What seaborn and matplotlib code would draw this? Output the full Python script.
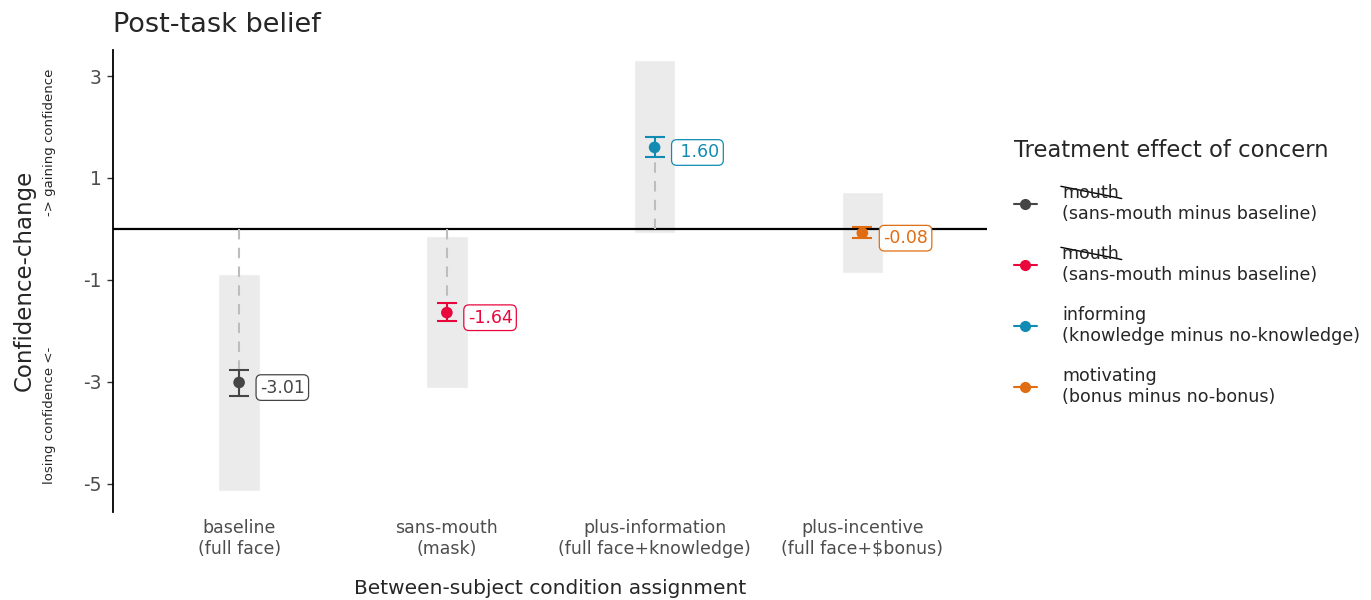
import numpy as np
import pandas as pd
import matplotlib
matplotlib.use("Agg")
import matplotlib.pyplot as plt
from matplotlib.lines import Line2D
import seaborn as sns


# DATA

conditions = [
    "baseline\n(full face)",
    "sans-mouth\n(mask)",
    "plus-information\n(full face+knowledge)",
    "plus-incentive\n(full face+$bonus)",
]
effects = [
    "mouth\n(sans-mouth minus baseline)",
    "mouth \n(sans-mouth minus baseline)",
    "informing\n(knowledge minus no-knowledge)",
    "motivating\n(bonus minus no-bonus)",
]
estimates = [-3.01, -1.64, 1.60, -0.08]
ci_low = [-3.28, -1.81, 1.41, -0.17]
ci_high = [-2.76, -1.46, 1.80, 0.04]
range_low = [-5.14, -3.12, -0.08, -0.86]
range_high = [-0.88, -0.14, 3.31, 0.73]
colors = ["#454545", "#E8063C", "#128BB3", "#E06D12"]

df = pd.DataFrame({
    "condition": conditions,
    "effect": effects,
    "estimate": estimates,
    "lo": ci_low,
    "hi": ci_high,
    "rlo": range_low,
    "rhi": range_high,
})
df["pos"] = np.arange(len(df))


# PLOT

sns.set_style("white")
plt.rcParams["font.family"] = ["DejaVu Sans"]
plt.rcParams["axes.unicode_minus"] = False

fig = plt.figure(figsize=(13.71, 6.0), dpi=100)
ax = fig.add_axes([113 / 1371, 1 - 512 / 600, (987 - 113) / 1371, (512 - 50) / 600])

# grey range bars
ax.bar(
    df["pos"], df["rhi"] - df["rlo"], bottom=df["rlo"],
    width=0.2, color="#EBEBEB", zorder=1
)

# zero line
ax.axhline(0, color="black", lw=1.6, zorder=2)

# dashed connector from zero to estimate
for _, r in df.iterrows():
    ax.plot([r["pos"], r["pos"]], [0, r["estimate"]],
            color="#BDBDBD", lw=1.5, ls=(0, (5, 4)), zorder=3)

# error bars
for (_, r), c in zip(df.iterrows(), colors):
    ax.errorbar(
        r["pos"], r["estimate"],
        yerr=[[r["estimate"] - r["lo"]], [r["hi"] - r["estimate"]]],
        fmt="none", ecolor=c, elinewidth=1.5, capsize=7.5, capthick=1.5,
        zorder=4
    )

sns.scatterplot(
    data=df, x="pos", y="estimate", hue="effect",
    palette=colors, s=70, edgecolor="none", legend=False,
    zorder=5, ax=ax
)

# value labels
for (_, r), c in zip(df.iterrows(), colors):
    ax.text(
        r["pos"] + 0.1, r["estimate"] - 0.1, f"{r['estimate']:5.2f}",
        color=c, fontsize=12.5, ha="left", va="center", zorder=6,
        bbox=dict(boxstyle="round,pad=0.22,rounding_size=0.3",
                  fc="white", ec=c, lw=0.9)
    )

ax.set_xlim(-0.607, 3.6)
ax.set_ylim(-5.55, 3.51)
ax.set_yticks([3, 1, -1, -3, -5])
ax.set_xticks(df["pos"])
ax.set_xticklabels(conditions, fontsize=12.5, color="#4D4D4D",
                   linespacing=1.2)
ax.tick_params(axis="x", length=0, pad=5)
ax.tick_params(axis="y", length=4, width=1, color="#333333",
               labelsize=13.5, labelcolor="#4D4D4D", pad=4, left=True)
ax.set_xlabel("")
ax.set_ylabel("")

sns.despine(ax=ax, bottom=True)
ax.spines["left"].set_color("black")
ax.spines["left"].set_linewidth(1.3)

# titles and axis texts
fig.text(113 / 1371, 1 - 25 / 600, "Post-task belief",
         fontsize=19.5, ha="left", va="center")
fig.text(550 / 1371, 1 - 588 / 600, "Between-subject condition assignment",
         fontsize=14.5, ha="center", va="center")
fig.text(24 / 1371, 1 - 280 / 600, "Confidence-change",
         fontsize=16.5, rotation=90, ha="center", va="center")
fig.text(50 / 1371, 1 - 142 / 600, "-> gaining confidence",
         fontsize=9.5, rotation=90, ha="center", va="center")
fig.text(50 / 1371, 1 - 415 / 600, "losing confidence <-",
         fontsize=9.5, rotation=90, ha="center", va="center")

# legend
handles = [
    Line2D([], [], color=c, marker="o", markersize=7, lw=1.5)
    for c in colors
]
leg = fig.legend(
    handles, effects,
    title="Treatment effect of concern",
    loc="upper left", bbox_to_anchor=(998 / 1371, 1 - 123 / 600),
    frameon=False, fontsize=12.6, title_fontsize=16.3,
    handlelength=1.3, handletextpad=1.45, labelspacing=1.27,
    alignment="left"
)

# strike through the word "mouth" in the first two legend entries
fig.canvas.draw()
renderer = fig.canvas.get_renderer()
tmp = fig.text(0, 0, "mouth", fontsize=12.6)
w_mouth = tmp.get_window_extent(renderer).width
tmp.remove()
for t in leg.get_texts()[:2]:
    bb = t.get_window_extent(renderer)
    line_h = bb.height / 2
    x0 = bb.x0 - 1
    x1 = bb.x0 + w_mouth + 3
    y0 = bb.y1 - 0.12 * line_h
    y1 = bb.y1 - 0.75 * line_h
    fig.add_artist(Line2D(
        [x0 / fig.bbox.width, x1 / fig.bbox.width],
        [y0 / fig.bbox.height, y1 / fig.bbox.height],
        transform=fig.transFigure, color="black", lw=1.0
    ))

fig.savefig("out.png", dpi=100)
